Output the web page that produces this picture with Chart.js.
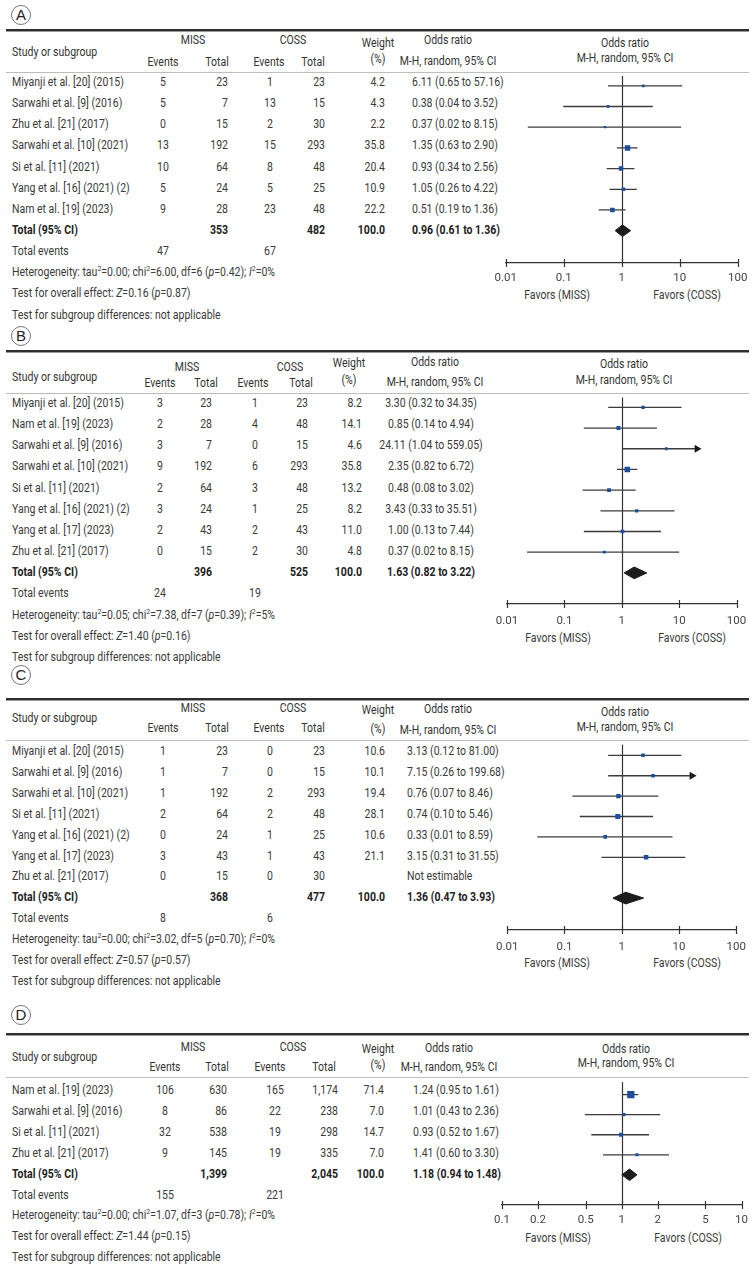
<!DOCTYPE html>
<html><head><meta charset="utf-8">
<script src="https://cdn.jsdelivr.net/npm/chart.js@4.4.1/dist/chart.umd.min.js"></script>
<style>
html,body{margin:0;padding:0;background:#fff;}
body{width:756px;height:1272px;position:relative;overflow:hidden;font-family:Roboto,"Liberation Sans",Arial,sans-serif;color:#3a3a3a;}
.t{position:absolute;white-space:nowrap;font-size:12px;line-height:15px;}
.b{font-weight:bold;color:#222;}
.h{color:#333;}
sup{font-size:8px;line-height:0;vertical-align:5px;}
.circ{position:absolute;width:18px;height:18px;border:1px solid #777;border-radius:50%;text-align:center;font-family:"Liberation Sans",Arial,sans-serif;font-size:15px;line-height:18px;color:#222;}
</style></head>
<body>
<script>
// ===================== DATA =====================
// Panel A
const studiesA = ['Miyanji et al. [20] (2015)','Sarwahi et al. [9] (2016)','Zhu et al. [21] (2017)','Sarwahi et al. [10] (2021)','Si et al. [11] (2021)','Yang et al. [16] (2021) (2)','Nam et al. [19] (2023)'];
const missEventsA = ['5','5','0','13','10','5','9'];
const missTotalA  = ['23','7','15','192','64','24','28'];
const cossEventsA = ['1','13','2','15','8','5','23'];
const cossTotalA  = ['23','15','30','293','48','25','48'];
const weightA     = [4.2,4.3,2.2,35.8,20.4,10.9,22.2];
const orTextA     = ['6.11 (0.65 to 57.16)','0.38 (0.04 to 3.52)','0.37 (0.02 to 8.15)','1.35 (0.63 to 2.90)','0.93 (0.34 to 2.56)','1.05 (0.26 to 4.22)','0.51 (0.19 to 1.36)'];
// plotted positions as drawn in the figure
const plotEstA = [2.35,0.58,0.515,1.26,0.97,1.07,0.69];
const plotLoA  = [0.58,0.098,0.024,0.82,0.55,0.615,0.40];
const plotHiA  = [11.0,3.43,10.6,1.87,1.65,1.82,1.17];
const arrowA   = [0,0,0,0,0,0,0];
const diamondA = [0.77,1.03,1.42];
const totalsA  = ['353','482','100.0','0.96 (0.61 to 1.36)'];
const totEventsA = ['47','67'];
const heteroA  = ['0.00','6.00','6','0.42','0'];
const overallA = ['0.16','0.87'];

// Panel B
const studiesB = ['Miyanji et al. [20] (2015)','Nam et al. [19] (2023)','Sarwahi et al. [9] (2016)','Sarwahi et al. [10] (2021)','Si et al. [11] (2021)','Yang et al. [16] (2021) (2)','Yang et al. [17] (2023)','Zhu et al. [21] (2017)'];
const missEventsB = ['3','2','3','9','2','3','2','0'];
const missTotalB  = ['23','28','7','192','64','24','43','15'];
const cossEventsB = ['1','4','0','6','3','1','2','2'];
const cossTotalB  = ['23','48','15','293','48','25','43','30'];
const weightB     = [8.2,14.1,4.6,35.8,13.2,8.2,11.0,4.8];
const orTextB     = ['3.30 (0.32 to 34.35)','0.85 (0.14 to 4.94)','24.11 (1.04 to 559.05)','2.35 (0.82 to 6.72)','0.48 (0.08 to 3.02)','3.43 (0.33 to 35.51)','1.00 (0.13 to 7.44)','0.37 (0.02 to 8.15)'];
const plotEstB = [2.35,0.875,5.98,1.25,0.60,1.82,1.03,0.496];
const plotLoB  = [0.58,0.218,1.03,0.82,0.207,0.426,0.218,0.0224];
const plotHiB  = [11.0,4.1,20.4,1.87,1.75,8.3,4.82,10.0];
const arrowB   = [0,0,1,0,0,0,0,0];
const diamondB = [1.10,1.65,2.73];
const totalsB  = ['396','525','100.0','1.63 (0.82 to 3.22)'];
const totEventsB = ['24','19'];
const heteroB  = ['0.05','7.38','7','0.39','5'];
const overallB = ['1.40','0.16'];

// Panel C
const studiesC = ['Miyanji et al. [20] (2015)','Sarwahi et al. [9] (2016)','Sarwahi et al. [10] (2021)','Si et al. [11] (2021)','Yang et al. [16] (2021) (2)','Yang et al. [17] (2023)','Zhu et al. [21] (2017)'];
const missEventsC = ['1','1','1','2','0','3','0'];
const missTotalC  = ['23','7','192','64','24','43','15'];
const cossEventsC = ['0','0','2','2','1','1','0'];
const cossTotalC  = ['23','15','293','48','25','43','30'];
const weightC     = [10.6,10.1,19.4,28.1,10.6,21.1,null];
const orTextC     = ['3.13 (0.12 to 81.00)','7.15 (0.26 to 199.68)','0.76 (0.07 to 8.46)','0.74 (0.10 to 5.46)','0.33 (0.01 to 8.59)','3.15 (0.31 to 31.55)','Not estimable'];
const plotEstC = [2.35,3.52,0.875,0.853,0.515,2.66,null];
const plotLoC  = [0.58,0.58,0.137,0.185,0.0336,0.443,null];
const plotHiC  = [11.0,16.8,4.35,3.52,7.69,12.8,null];
const arrowC   = [0,1,0,0,0,0,0];
const diamondC = [0.70,1.17,2.41];
const totalsC  = ['368','477','100.0','1.36 (0.47 to 3.93)'];
const totEventsC = ['8','6'];
const heteroC  = ['0.00','3.02','5','0.70','0'];
const overallC = ['0.57','0.57'];

// Panel D
const studiesD = ['Nam et al. [19] (2023)','Sarwahi et al. [9] (2016)','Si et al. [11] (2021)','Zhu et al. [21] (2017)'];
const missEventsD = ['106','8','32','9'];
const missTotalD  = ['630','86','538','145'];
const cossEventsD = ['165','22','19','19'];
const cossTotalD  = ['1,174','238','298','335'];
const weightD     = [71.4,7.0,14.7,7.0];
const orTextD     = ['1.24 (0.95 to 1.61)','1.01 (0.43 to 2.36)','0.93 (0.52 to 1.67)','1.41 (0.60 to 3.30)'];
const plotEstD = [1.19,1.04,0.987,1.34];
const plotLoD  = [1.006,0.492,0.557,0.697];
const plotHiD  = [1.374,2.09,1.69,2.48];
const arrowD   = [0,0,0,0];
const diamondD = [1.0,1.16,1.34];
const totalsD  = ['1,399','2,045','100.0','1.18 (0.94 to 1.48)'];
const totEventsD = ['155','221'];
const heteroD  = ['0.00','1.07','3','0.78','0'];
const overallD = ['1.44','0.15'];

// Axis ticks
const tickValsWide = [0.01,0.1,1,10,100];
const tickLabelsWide = ['0.01','0.1','1','10','100'];
const tickValsNarrow = [0.1,0.2,0.5,1,2,5,10];
const tickLabelsNarrow = ['0.1','0.2','0.5','1','2','5','10'];

// ===================== LAYOUT =====================
const FONT = 'Roboto,"Liberation Sans",Arial,sans-serif';
const SX = 0.875; // horizontal condensing of text
const CANVAS_LEFT = 486, X0 = 502, X1 = 745, AXIS_H = 30;

const panels = [
 {letter:'A', studies:studiesA, mEv:missEventsA, mTot:missTotalA, cEv:cossEventsA, cTot:cossTotalA, w:weightA, or:orTextA,
  est:plotEstA, lo:plotLoA, hi:plotHiA, arrow:arrowA, dia:diamondA, totals:totalsA, totEv:totEventsA, het:heteroA, ov:overallA,
  ticks:tickValsWide, tickLabels:tickLabelsWide, min:0.01, max:100,
  L:{lab:15, rule:29, hMiss:40, hStudy:52, hEv:62, hW1:43, hW2:59, hOr1:40, hOr2:61, hP1:43, hP2:58, hline:72, row0:82, step:21.14, axis:263, tickPad:8.6, fav:295,
     mEvX:163, mTotX:228, cEvX:270, cTotX:325, wX:385, orX:412, orAlign:'l', missX:193, cossX:293, weightX:378, evMX:163, totMX:217, evCX:269, totCX:313, orHX:448, pHX:625, favL:557, favR:687}},
 {letter:'B', studies:studiesB, mEv:missEventsB, mTot:missTotalB, cEv:cossEventsB, cTot:cossTotalB, w:weightB, or:orTextB,
  est:plotEstB, lo:plotLoB, hi:plotHiB, arrow:arrowB, dia:diamondB, totals:totalsB, totEv:totEventsB, het:heteroB, ov:overallB,
  ticks:tickValsWide, tickLabels:tickLabelsWide, min:0.01, max:100,
  L:{lab:336, rule:350, hMiss:367, hStudy:377, hEv:383, hW1:363, hW2:380, hOr1:362, hOr2:382, hP1:364, hP2:380, hline:393, row0:403, step:21.15, axis:604, tickPad:9.8, fav:638,
     mEvX:160, mTotX:212, cEvX:255, cTotX:308, wX:362, orX:431, orAlign:'c', missX:187, cossX:290, weightX:349, evMX:160, totMX:206, evCX:253, totCX:301, orHX:435, pHX:624, favL:558, favR:692}},
 {letter:'C', studies:studiesC, mEv:missEventsC, mTot:missTotalC, cEv:cossEventsC, cTot:cossTotalC, w:weightC, or:orTextC,
  est:plotEstC, lo:plotLoC, hi:plotHiC, arrow:arrowC, dia:diamondC, totals:totalsC, totEv:totEventsC, het:heteroC, ov:overallC,
  ticks:tickValsWide, tickLabels:tickLabelsWide, min:0.01, max:100,
  L:{lab:675, rule:698, hMiss:708, hStudy:718, hEv:728, hW1:710, hW2:729, hOr1:709, hOr2:730, hP1:712, hP2:727, hline:740, row0:751, step:20.9, axis:930, tickPad:10, fav:963,
     mEvX:163, mTotX:228, cEvX:270, cTotX:325, wX:385, orX:407, orAlign:'l', missX:193, cossX:293, weightX:378, evMX:163, totMX:217, evCX:269, totCX:313, orHX:448, pHX:625, favL:557, favR:687}},
 {letter:'D', studies:studiesD, mEv:missEventsD, mTot:missTotalD, cEv:cossEventsD, cTot:cossTotalD, w:weightD, or:orTextD,
  est:plotEstD, lo:plotLoD, hi:plotHiD, arrow:arrowD, dia:diamondD, totals:totalsD, totEv:totEventsD, het:heteroD, ov:overallD,
  ticks:tickValsNarrow, tickLabels:tickLabelsNarrow, min:0.1, max:10,
  L:{lab:1015, rule:1033, hMiss:1047, hStudy:1057, hEv:1067, hW1:1049, hW2:1065, hOr1:1048, hOr2:1067, hP1:1049, hP2:1063, hline:1077, row0:1090, step:20.9, axis:1205, tickPad:8, fav:1238,
     mEvX:165, mTotX:227, cEvX:275, cTotX:338, wX:384, orX:413, orAlign:'l', missX:193, cossX:293, weightX:378, evMX:165, totMX:217, evCX:270, totCX:324, orHX:449, pHX:626, favL:558, favR:688}}
];

// ===================== RENDER =====================
function T(x, y, html, align, cls) {
  const d = document.createElement('div');
  d.className = 't' + (cls ? ' ' + cls : '');
  d.innerHTML = html;
  d.style.left = x + 'px';
  d.style.top = y + 'px';
  const tx = align === 'c' ? '-50%' : (align === 'r' ? '-100%' : '0');
  d.style.transformOrigin = (align === 'c' ? 'center' : (align === 'r' ? 'right' : 'left')) + ' center';
  d.style.transform = 'translate(' + tx + ',-50%) scaleX(' + SX + ')';
  document.body.appendChild(d);
}
function box(css) {
  const d = document.createElement('div');
  d.style.cssText = css;
  document.body.appendChild(d);
  return d;
}

const refLine = {
  id: 'refLine',
  beforeDatasetsDraw(chart) {
    const {ctx, chartArea} = chart;
    const x = Math.round(chart.scales.x.getPixelForValue(1)) + 0.5;
    ctx.save();
    ctx.strokeStyle = '#333'; ctx.lineWidth = 1.2;
    ctx.beginPath(); ctx.moveTo(x, chartArea.top); ctx.lineTo(x, chartArea.bottom); ctx.stroke();
    ctx.restore();
  }
};
const tickMarks = {
  id: 'tickMarks',
  afterDraw(chart) {
    const {ctx, chartArea} = chart;
    const xs = chart.scales.x;
    const y = chartArea.bottom;
    ctx.save();
    ctx.strokeStyle = '#333'; ctx.lineWidth = 1.2;
    xs.ticks.forEach(t => {
      const x = Math.round(xs.getPixelForValue(t.value)) + 0.5;
      ctx.beginPath(); ctx.moveTo(x, y - 4); ctx.lineTo(x, y + 4); ctx.stroke();
    });
    ctx.restore();
  }
};

function drawForest(p) {
  const L = p.L;
  const W = 756 - CANVAS_LEFT, H = L.axis - L.hline + AXIS_H;
  const c = document.createElement('canvas');
  c.width = W; c.height = H;
  c.style.cssText = 'position:absolute;left:' + CANVAS_LEFT + 'px;top:' + L.hline + 'px;width:' + W + 'px;height:' + H + 'px;';
  document.body.appendChild(c);

  const n = p.est.length;
  const ds = [];
  for (let i = 0; i < n; i++) {
    if (p.est[i] == null) continue;
    ds.push({data: [{x: p.lo[i], y: i}, {x: p.hi[i], y: i}], borderColor: '#3b3b3b', borderWidth: 1.3,
             pointRadius: 0, fill: false, order: 3});
  }
  const arrowPts = [];
  for (let i = 0; i < n; i++) if (p.arrow[i]) arrowPts.push({x: p.hi[i], y: i});
  ds.push({data: arrowPts, showLine: false, pointStyle: 'triangle', pointRotation: 90, pointRadius: 4.6,
           pointBackgroundColor: '#1a1a1a', pointBorderColor: '#1a1a1a', pointBorderWidth: 0, order: 2});
  const sq = [], sqR = [];
  for (let i = 0; i < n; i++) {
    if (p.est[i] == null) continue;
    sq.push({x: p.est[i], y: i});
    sqR.push(0.9 + 0.5 * Math.sqrt(p.w[i]));
  }
  ds.push({data: sq, showLine: false, pointStyle: 'rect', pointRadius: sqR,
           pointBackgroundColor: '#1d4f9e', pointBorderColor: '#1d4f9e', pointBorderWidth: 0, order: 1});
  const h = 6 / L.step, r = n;
  ds.push({data: [{x: p.dia[0], y: r}, {x: p.dia[1], y: r - h}, {x: p.dia[2], y: r}, {x: p.dia[1], y: r + h}, {x: p.dia[0], y: r}],
           fill: 'shape', backgroundColor: '#1c1c1c', borderColor: '#1c1c1c', borderWidth: 1, pointRadius: 0, order: 0});

  new Chart(c, {
    type: 'line',
    data: {datasets: ds},
    options: {
      responsive: false, animation: false, devicePixelRatio: 1, events: [],
      layout: {padding: {left: X0 - CANVAS_LEFT, right: 756 - X1, top: 0, bottom: 0}},
      plugins: {legend: {display: false}, tooltip: {enabled: false}},
      scales: {
        x: {
          type: 'logarithmic', min: p.min, max: p.max, position: 'bottom',
          grid: {display: false, drawTicks: false},
          border: {display: true, color: '#333', width: 1.2},
          ticks: {color: '#444', font: {family: FONT, size: 11.5}, padding: L.tickPad, autoSkip: false, maxRotation: 0,
                  callback: (v, idx) => p.tickLabels[idx]},
          afterBuildTicks: s => { s.ticks = p.ticks.map(v => ({value: v})); },
          afterFit: s => { s.height = AXIS_H; }
        },
        y: {type: 'linear', display: false, reverse: true,
            min: (L.hline - L.row0) / L.step, max: (L.axis - L.row0) / L.step}
      }
    },
    plugins: [refLine, tickMarks]
  });
}

function drawPanel(p) {
  const L = p.L;
  const c = box('');
  c.className = 'circ';
  c.style.left = (21 - 10) + 'px';
  c.style.top = (L.lab - 10) + 'px';
  c.textContent = p.letter;
  box('position:absolute;left:6px;width:743px;top:' + L.rule + 'px;height:2px;background:#2e2e2e;');
  box('position:absolute;left:6px;width:743px;top:' + (L.rule + 2) + 'px;height:1px;background:#9a9a9a;');
  box('position:absolute;left:6px;width:743px;top:' + L.hline + 'px;height:1px;background:#bdbdbd;');

  // headers
  T(12, L.hStudy, 'Study or subgroup', 'l', 'h');
  T(L.missX, L.hMiss, 'MISS', 'c', 'h');
  T(L.cossX, L.hMiss, 'COSS', 'c', 'h');
  T(L.evMX, L.hEv, 'Events', 'c', 'h');
  T(L.totMX, L.hEv, 'Total', 'c', 'h');
  T(L.evCX, L.hEv, 'Events', 'c', 'h');
  T(L.totCX, L.hEv, 'Total', 'c', 'h');
  T(L.weightX, L.hW1, 'Weight', 'c', 'h');
  T(L.weightX, L.hW2, '(%)', 'c', 'h');
  T(L.orHX, L.hOr1, 'Odds ratio', 'c', 'h');
  T(L.orHX, L.hOr2, 'M-H, random, 95% CI', 'c', 'h');
  T(L.pHX, L.hP1, 'Odds ratio', 'c', 'h');
  T(L.pHX, L.hP2, 'M-H, random, 95% CI', 'c', 'h');

  const n = p.studies.length;
  const Y = i => L.row0 + i * L.step;
  const orX = L.orX, orA = L.orAlign === 'c' ? 'c' : 'l';
  for (let i = 0; i < n; i++) {
    const y = Y(i);
    T(12, y, p.studies[i], 'l');
    T(L.mEvX, y, p.mEv[i], 'c');
    T(L.mTotX, y, p.mTot[i], 'r');
    T(L.cEvX, y, p.cEv[i], 'c');
    T(L.cTotX, y, p.cTot[i], 'r');
    if (p.w[i] != null) T(L.wX, y, p.w[i].toFixed(1), 'r');
    T(orX, y, p.or[i], orA);
  }
  let y = Y(n);
  T(12, y, 'Total (95% CI)', 'l', 'b');
  T(L.mTotX, y, p.totals[0], 'r', 'b');
  T(L.cTotX, y, p.totals[1], 'r', 'b');
  T(L.wX, y, p.totals[2], 'r', 'b');
  T(orX, y, p.totals[3], orA, 'b');
  y = Y(n + 1);
  T(12, y, 'Total events', 'l');
  T(L.mEvX, y, p.totEv[0], 'c');
  T(L.cEvX, y, p.totEv[1], 'c');
  T(12, Y(n + 2), 'Heterogeneity: tau<sup>2</sup>=' + p.het[0] + '; chi<sup>2</sup>=' + p.het[1] + ', df=' + p.het[2] +
    ' (<i>p</i>=' + p.het[3] + '); <i>I</i><sup>2</sup>=' + p.het[4] + '%', 'l');
  T(12, Y(n + 3), 'Test for overall effect: <i>Z</i>=' + p.ov[0] + ' (<i>p</i>=' + p.ov[1] + ')', 'l');
  T(12, Y(n + 4), 'Test for subgroup differences: not applicable', 'l');

  T(L.favL, L.fav, 'Favors (MISS)', 'c');
  T(L.favR, L.fav, 'Favors (COSS)', 'c');

  drawForest(p);
}

panels.forEach(drawPanel);
</script>
</body></html>
